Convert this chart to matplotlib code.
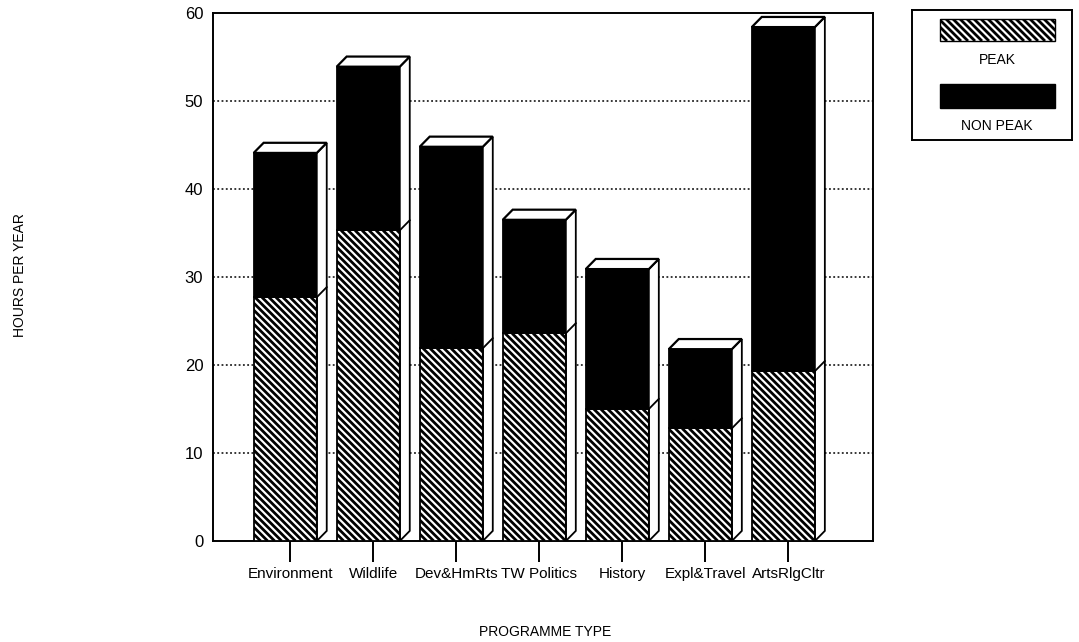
import numpy as np
import matplotlib.pyplot as plt
from matplotlib.patches import Rectangle, Polygon
from matplotlib.collections import LineCollection

plt.rcParams['font.family'] = ['Liberation Sans', 'DejaVu Sans']

programmes = ['Environment', 'Wildlife', 'Dev&HmRts', 'TW Politics',
              'History', 'Expl&Travel', 'ArtsRlgCltr']
peak = [27.7, 35.3, 21.9, 23.6, 15.0, 12.8, 19.3]
total = [44.1, 53.9, 44.8, 36.5, 30.9, 21.8, 58.4]
non_peak = [t - p for t, p in zip(total, peak)]

W, H = 1079, 642
fig = plt.figure(figsize=(W / 100, H / 100), dpi=100)
ax = fig.add_axes([213 / W, 1 - 541 / H, 660 / W, 528 / H])
XLIM = (-0.93, 7.02)
YLIM = (0, 60)


def hatch_rect(axis, rect, sx, sy, step=7.0, lw=2.0, flip=False):
    # diagonal stripes (top-left to bottom-right), step in pixels,
    # sx/sy = pixels per data unit
    x0, y0 = rect.get_x(), rect.get_y()
    w, h = rect.get_width(), rect.get_height()
    wp, hp = w * sx, h * sy
    segs = []
    for c in np.arange(-hp, wp + hp, step):
        p1 = (x0 + c / sx, y0 + (0 if flip else h))
        p2 = (x0 + (c + hp) / sx, y0 + (h if flip else 0))
        segs.append([p1, p2])
    lc = LineCollection(segs, colors='black', linewidths=lw,
                        zorder=rect.get_zorder() + 0.1)
    axis.add_collection(lc)
    lc.set_clip_path(rect)


sx = 660 / (XLIM[1] - XLIM[0])
sy = 528 / (YLIM[1] - YLIM[0])

x = np.arange(len(programmes))
front_l, front_r = 0.44, 0.32   # front face edges either side of the tick
dx, dy = 0.12, 1.15             # depth of the 3d side/top faces

for xi, p, n in zip(x, peak, non_peak):
    l = xi - front_l
    r = xi + front_r
    w = r - l
    # front faces
    rp = Rectangle((l, 0), w, p, facecolor='white', edgecolor='none', zorder=3)
    ax.add_patch(rp)
    hatch_rect(ax, rp, sx, sy)
    ax.add_patch(Rectangle((l, 0), w, p, facecolor='none', edgecolor='black',
                           lw=1.3, zorder=3.5))
    ax.add_patch(Rectangle((l, p), w, n, facecolor='black', edgecolor='black',
                           lw=1.3, zorder=3))
    t = p + n
    # side face
    ax.add_patch(Polygon([(r, 0), (r + dx, dy), (r + dx, t + dy), (r, t)],
                         closed=True, facecolor='white', edgecolor='black',
                         lw=1.3, zorder=3))
    ax.plot([r, r + dx], [p, p + dy], color='black', lw=1.3, zorder=4)
    # top face
    ax.add_patch(Polygon([(l, t), (l + dx, t + dy), (r + dx, t + dy), (r, t)],
                         closed=True, facecolor='white', edgecolor='black',
                         lw=1.6, zorder=3))

ax.set_xlim(*XLIM)
ax.set_ylim(*YLIM)
ax.set_yticks(np.arange(0, 61, 10))
ax.set_xticks(x)
ax.set_xticklabels(programmes, fontsize=11)
ax.tick_params(axis='y', length=0, pad=7, labelsize=12)
ax.tick_params(axis='x', length=15, width=1.4, pad=4, direction='out')
for yv in range(10, 60, 10):
    ax.axhline(yv, color='black', lw=1.1, ls=(0, (1.2, 1.6)), zorder=1)
for s in ax.spines.values():
    s.set_linewidth(1.4)

fig.text(20 / W, 1 - 275 / H, 'HOURS PER YEAR', rotation=90, ha='center',
         va='center', fontsize=10)
fig.text(545 / W, 1 - 632 / H, 'PROGRAMME TYPE', ha='center', va='center',
         fontsize=10)

# legend box (1 data unit = 1 pixel, y pointing down)
lg = fig.add_axes([912 / W, 1 - 140 / H, 160 / W, 130 / H])
lg.set_xlim(0, 160)
lg.set_ylim(130, 0)
lg.set_xticks([])
lg.set_yticks([])
for s in lg.spines.values():
    s.set_linewidth(1.4)
lr = Rectangle((28, 9), 115, 22, facecolor='white', edgecolor='none')
lg.add_patch(lr)
hatch_rect(lg, lr, 1.0, 1.0, flip=True)
lg.add_patch(Rectangle((28, 9), 115, 22, facecolor='none', edgecolor='black',
                       lw=1.0, zorder=3))
lg.text(85, 50, 'PEAK', ha='center', va='center', fontsize=10)
lg.add_patch(Rectangle((28, 74), 115, 24, facecolor='black', edgecolor='black',
                       lw=1.0))
lg.text(85, 116, 'NON PEAK', ha='center', va='center', fontsize=10)

fig.savefig('out.png', dpi=100)
